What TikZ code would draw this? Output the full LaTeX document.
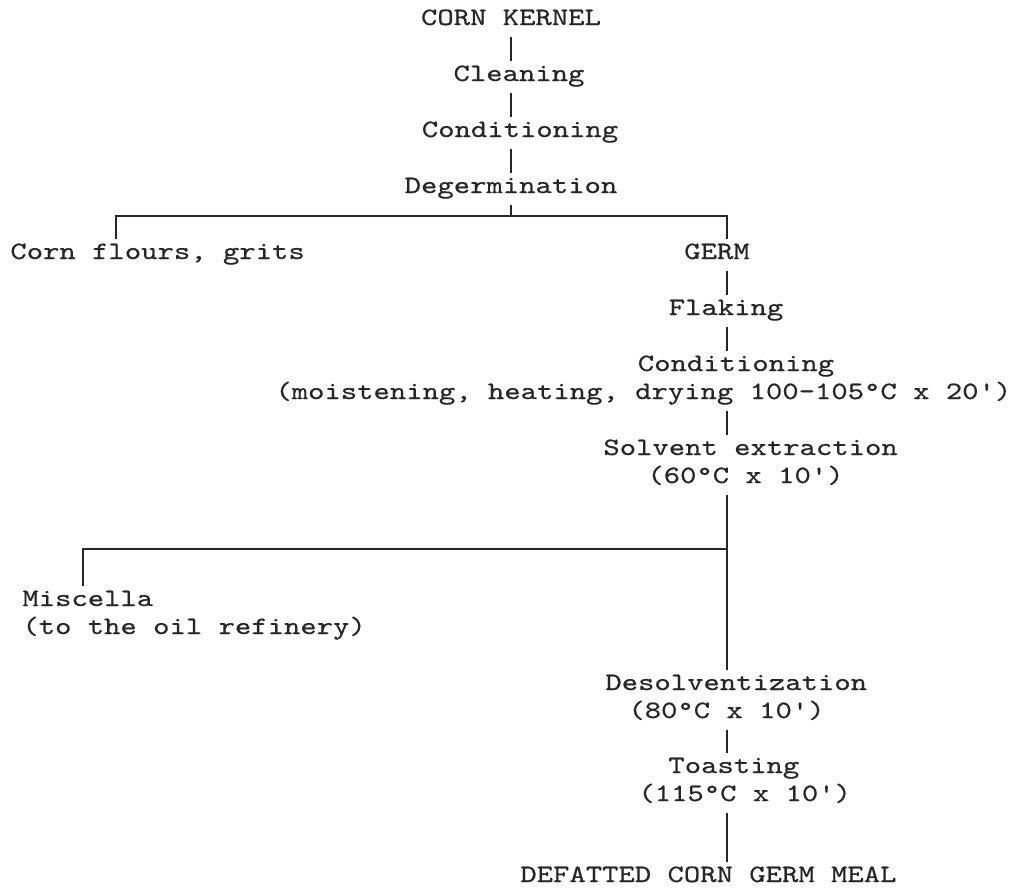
\documentclass[tikz,border=0pt]{standalone}
\usepackage{fontspec}
\newfontfamily\typew{lmmono10-regular.otf}[FakeStretch=1.246, FakeBold=0.5]
\definecolor{ink}{gray}{0.15}

\begin{document}
\begin{tikzpicture}[x=0.5pt, y=-0.5pt,
    flow/.style={font=\typew\fontsize{12.5pt}{15pt}\selectfont, text=ink,
      inner xsep=0pt, inner ysep=1.5pt, text height=8.4pt, text depth=4.1pt, anchor=base},
    flowleft/.style={flow, anchor=base west},
    link/.style={draw=ink, line width=0.8pt}]
  \useasboundingbox (0,0) rectangle (1025,890);

  % Columns and forks
  \coordinate (colA) at (511,0);
  \coordinate (colB) at (727,0);
  \coordinate (floursX) at (116,0);
  \coordinate (miscX) at (83,0);
  \coordinate (forkA) at (511,216);
  \coordinate (forkB) at (727,549);

  % Milling of the kernel
  \node[flow] (kernel) at (511,25) {CORN KERNEL};
  \node[flow] (clean) at (519,81) {Cleaning};
  \node[flow] (cond) at (520,137) {Conditioning};
  \node[flow] (degerm) at (511,193) {Degermination};
  \node[flowleft] (flours) at (10,259) {Corn flours, grits};
  \node[flow] (germ) at (717,259) {GERM};

  % Germ treatment
  \node[flow] (flake) at (726,315) {Flaking};
  \node[flow] (condB) at (736,371) {Conditioning};
  \node[flowleft] (condT) at (275,399) {(moistening, heating, drying 100-105°C x 20')};
  \node[flowleft] (solv) at (603,455) {Solvent extraction};
  \node[flowleft] (solvT) at (647,483) {(60°C x 10')};

  % Oil side
  \node[flowleft] (misc) at (22,606) {Miscella};
  \node[flowleft] (miscT) at (22,634) {(to the oil refinery)};

  % Meal side
  \node[flowleft] (desolv) at (605,690) {Desolventization};
  \node[flowleft] (desolvT) at (628,718) {(80°C x 10')};
  \node[flowleft] (toast) at (668,773) {Toasting};
  \node[flowleft] (toastT) at (638,801) {(115°C x 10')};
  \node[flowleft] (meal) at (520,882) {DEFATTED CORN GERM MEAL};

  % Connectors
  \draw[link] (kernel.south -| colA) -- (clean.north -| colA);
  \draw[link] (clean.south -| colA) -- (cond.north -| colA);
  \draw[link] (cond.south -| colA) -- (degerm.north -| colA);
  \draw[link] (degerm.south -| colA) -- (forkA);
  \draw[link] (flours.north -| floursX) |- (forkA) -| (germ.north -| colB);
  \draw[link] (germ.south -| colB) -- (flake.north -| colB);
  \draw[link] (flake.south -| colB) -- (condB.north -| colB);
  \draw[link] (condT.south -| colB) -- (solv.north -| colB);
  \draw[link] (solvT.south -| colB) -- (desolv.north -| colB);
  \draw[link] (misc.north -| miscX) |- (forkB);
  \draw[link] (desolvT.south -| colB) -- (toast.north -| colB);
  \draw[link] (toastT.south -| colB) -- (meal.north -| colB);
\end{tikzpicture}
\end{document}
